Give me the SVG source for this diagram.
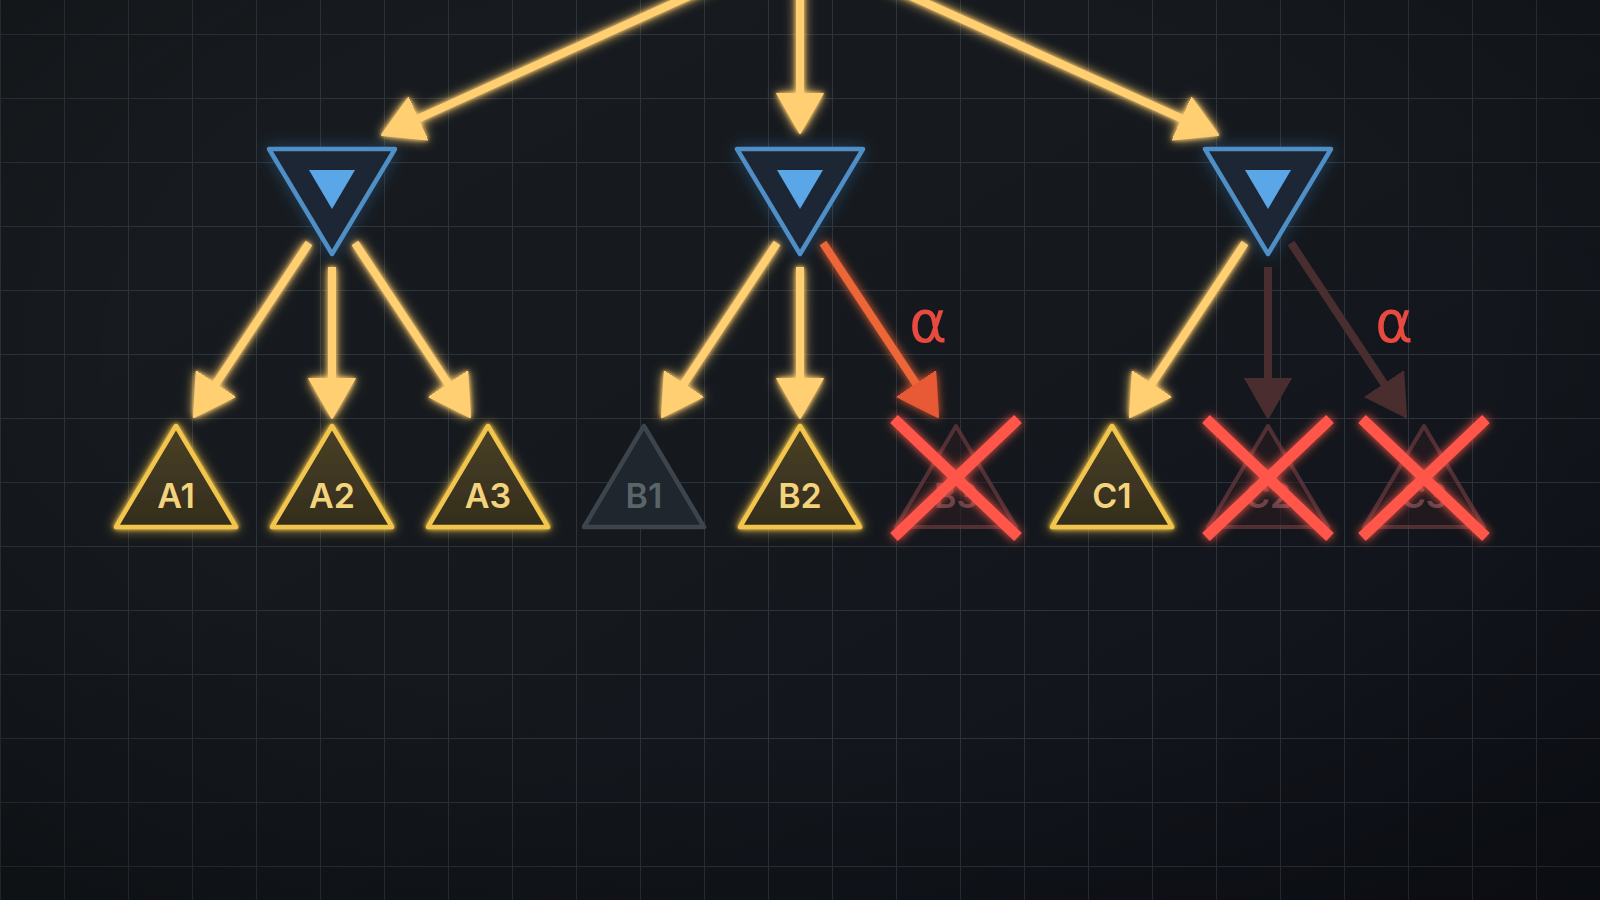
<svg xmlns="http://www.w3.org/2000/svg" width="1600" height="900" viewBox="0 0 1600 900">
  <defs>
    <linearGradient id="bg" x1="0" y1="0" x2="1" y2="1">
      <stop offset="0" stop-color="#181c20"/>
      <stop offset="0.5" stop-color="#15191e"/>
      <stop offset="1" stop-color="#0f121a"/>
    </linearGradient>
    <radialGradient id="vig" cx="0.5" cy="0.4" r="0.75">
      <stop offset="0.55" stop-color="#000" stop-opacity="0"/>
      <stop offset="1" stop-color="#000" stop-opacity="0.3"/>
    </radialGradient>
    <pattern id="grid" patternUnits="userSpaceOnUse" x="0" y="34" width="64" height="64">
      <path d="M0 0 H64 M0 0 V64" fill="none" stroke="#2c333a" stroke-width="2"/>
    </pattern>
    <linearGradient id="leafFill" x1="0" y1="0" x2="0" y2="1">
      <stop offset="0" stop-color="#4a4126"/>
      <stop offset="1" stop-color="#332d1d"/>
    </linearGradient>
    <filter id="glowGold" filterUnits="userSpaceOnUse" x="-100" y="-100" width="1800" height="1100">
      <feGaussianBlur in="SourceGraphic" stdDeviation="6" result="b1"/>
      <feGaussianBlur in="SourceGraphic" stdDeviation="2" result="b2"/>
      <feMerge><feMergeNode in="b1"/><feMergeNode in="b2"/><feMergeNode in="SourceGraphic"/></feMerge>
    </filter>
    <filter id="glowBlue" filterUnits="userSpaceOnUse" x="-100" y="-100" width="1800" height="1100">
      <feGaussianBlur in="SourceAlpha" stdDeviation="8" result="a"/>
      <feFlood flood-color="#3f8fd8" flood-opacity="0.35"/>
      <feComposite in2="a" operator="in" result="g"/>
      <feMerge><feMergeNode in="g"/><feMergeNode in="SourceGraphic"/></feMerge>
    </filter>
    <filter id="glowRed" filterUnits="userSpaceOnUse" x="-100" y="-100" width="1800" height="1100">
      <feGaussianBlur in="SourceGraphic" stdDeviation="5" result="b1"/>
      <feMerge><feMergeNode in="b1"/><feMergeNode in="SourceGraphic"/></feMerge>
    </filter>
    <marker id="ahGold" markerUnits="userSpaceOnUse" viewBox="0 -24 42 48" markerWidth="42" markerHeight="48" refX="2" refY="0" orient="auto">
      <path d="M0 -23 L40 0 L0 23 Z" fill="#ffcf72" stroke="#ffcf72" stroke-width="2" stroke-linejoin="round"/>
    </marker>
    <marker id="ahOrange" markerUnits="userSpaceOnUse" viewBox="0 -24 42 48" markerWidth="42" markerHeight="48" refX="2" refY="0" orient="auto">
      <path d="M0 -23 L40 0 L0 23 Z" fill="#e85a34" stroke="#e85a34" stroke-width="2" stroke-linejoin="round"/>
    </marker>
    <marker id="ahDark" markerUnits="userSpaceOnUse" viewBox="0 -24 42 48" markerWidth="42" markerHeight="48" refX="2" refY="0" orient="auto">
      <path d="M0 -23 L40 0 L0 23 Z" fill="#4a2d2f" stroke="#4a2d2f" stroke-width="2" stroke-linejoin="round"/>
    </marker>
    <style>
      .gold { stroke: #ffcf72; stroke-width: 8; fill: none; marker-end: url(#ahGold); filter: url(#glowGold); }
      .orange { stroke: #ec6638; stroke-width: 8; fill: none; marker-end: url(#ahOrange); filter: url(#glowRed); }
      .dark { stroke: #4a2d2f; stroke-width: 8; fill: none; marker-end: url(#ahDark); }
      .minOuter { fill: #1c2835; stroke: #4f8fc6; stroke-width: 4.5; stroke-linejoin: round; }
      .minInner { fill: #5aa6e6; }
      .leaf { fill: url(#leafFill); stroke: #f2c54e; stroke-width: 4.5; stroke-linejoin: round; filter: url(#glowGold); }
      .leafText { font-family: Inter, "Open Sans", "Liberation Sans", sans-serif; font-weight: 600; font-size: 34px; fill: #f3d47c; text-anchor: middle; }
      .grey { fill: #1f262d; stroke: #3c444c; stroke-width: 4.5; stroke-linejoin: round; }
      .greyText { font-family: Inter, "Open Sans", "Liberation Sans", sans-serif; font-weight: 600; font-size: 34px; fill: #5b636b; text-anchor: middle; }
      .pruned { fill: #2a1c20; fill-opacity: 0.6; stroke: #6a3a3e; stroke-opacity: 0.7; stroke-width: 4; stroke-linejoin: round; }
      .prunedText { font-family: Inter, "Open Sans", "Liberation Sans", sans-serif; font-weight: 600; font-size: 34px; fill: #6a4448; text-anchor: middle; }
      .cross { stroke: #ff574a; stroke-width: 11; fill: none; filter: url(#glowRed); }
      .alpha { font-family: "DejaVu Sans", "Noto Sans", sans-serif; font-size: 58px; fill: #e84a40; text-anchor: middle; }
    </style>
  </defs>

  <rect width="1600" height="900" fill="url(#bg)"/>
  <rect width="1600" height="900" fill="url(#grid)"/>
  <rect width="1600" height="900" fill="url(#vig)"/>

  <g id="connectors">
    <line class="gold" x1="724.8" y1="-20" x2="416.6" y2="119.3"/>
    <line class="gold" x1="800" y1="-20" x2="800" y2="95"/>
    <line class="gold" x1="875.2" y1="-20" x2="1183.4" y2="119.3"/>

    <line class="gold" x1="309" y1="243" x2="214.9" y2="385.3"/>
    <line class="gold" x1="332" y1="267" x2="332" y2="380"/>
    <line class="gold" x1="355" y1="243" x2="449.1" y2="385.3"/>

    <line class="gold" x1="777" y1="243" x2="682.9" y2="385.3"/>
    <line class="gold" x1="800" y1="267" x2="800" y2="380"/>
    <line class="orange" x1="823" y1="243" x2="917.1" y2="385.3"/>

    <line class="gold" x1="1245" y1="243" x2="1150.9" y2="385.3"/>
    <line class="dark" x1="1268" y1="267" x2="1268" y2="380"/>
    <line class="dark" x1="1291" y1="243" x2="1385.1" y2="385.3"/>
  </g>

  <g id="min-left" filter="url(#glowBlue)">
    <polygon class="minOuter" points="269,149 395,149 332,254"/>
    <polygon class="minInner" points="309,170 355,170 332,209"/>
  </g>
  <g id="min-mid" filter="url(#glowBlue)">
    <polygon class="minOuter" points="737,149 863,149 800,254"/>
    <polygon class="minInner" points="777,170 823,170 800,209"/>
  </g>
  <g id="min-right" filter="url(#glowBlue)">
    <polygon class="minOuter" points="1205,149 1331,149 1268,254"/>
    <polygon class="minInner" points="1245,170 1291,170 1268,209"/>
  </g>

  <g id="leaf-A1">
    <polygon class="leaf" points="176,426 236,527 116,527"/>
    <text class="leafText" x="176" y="508">A1</text>
  </g>
  <g id="leaf-A2">
    <polygon class="leaf" points="332,426 392,527 272,527"/>
    <text class="leafText" x="332" y="508">A2</text>
  </g>
  <g id="leaf-A3">
    <polygon class="leaf" points="488,426 548,527 428,527"/>
    <text class="leafText" x="488" y="508">A3</text>
  </g>
  <g id="leaf-B1">
    <polygon class="grey" points="644,426 704,527 584,527"/>
    <text class="greyText" x="644" y="508">B1</text>
  </g>
  <g id="leaf-B2">
    <polygon class="leaf" points="800,426 860,527 740,527"/>
    <text class="leafText" x="800" y="508">B2</text>
  </g>
  <g id="leaf-B3">
    <polygon class="pruned" points="956,426 1016,527 896,527"/>
    <text class="prunedText" x="956" y="508">B3</text>
    <path class="cross" d="M894 419 L1018 537 M1018 419 L894 537"/>
  </g>
  <g id="leaf-C1">
    <polygon class="leaf" points="1112,426 1172,527 1052,527"/>
    <text class="leafText" x="1112" y="508">C1</text>
  </g>
  <g id="leaf-C2">
    <polygon class="pruned" points="1268,426 1328,527 1208,527"/>
    <text class="prunedText" x="1268" y="508">C2</text>
    <path class="cross" d="M1206 419 L1330 537 M1330 419 L1206 537"/>
  </g>
  <g id="leaf-C3">
    <polygon class="pruned" points="1424,426 1484,527 1364,527"/>
    <text class="prunedText" x="1424" y="508">C3</text>
    <path class="cross" d="M1362 419 L1486 537 M1486 419 L1362 537"/>
  </g>

  <g id="labels">
    <text class="alpha" x="928" y="342">α</text>
    <text class="alpha" x="1394" y="342">α</text>
  </g>
</svg>
